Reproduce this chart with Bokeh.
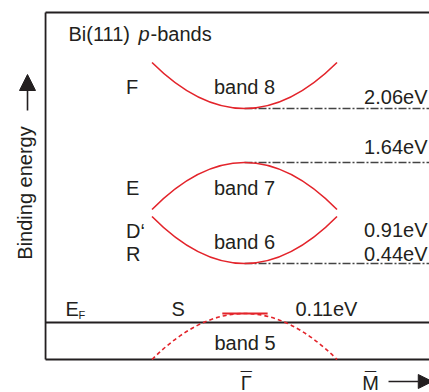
import math
from bokeh.plotting import figure
from bokeh.models import Range1d, ColumnDataSource, Arrow, NormalHead
from bokeh.core.properties import value
from bokeh.embed import file_html
from bokeh.resources import INLINE

# ---------------- data (schematic diagram units; k: Gamma=0, band ends at +-1; E_F level = 0) ----
band_names = ["band 8", "band 7", "band 6", "band 5"]
band_vertex = [2.14, 1.60, 0.59, 0.09]      # level at Gamma
band_edge = [2.60, 1.13, 1.06, -0.37]       # level at k = +-1
band_kmax = [1.0, 1.0, 1.0, 1.0]
band_dash = ["solid", "solid", "solid", "dashed"]
band_label_y = [2.36, 1.35, 0.81, -0.205]

ref_levels = [2.14, 1.60, 0.59]             # dash-dot lines from Gamma (2.06, 1.64, 0.44 eV)
energy_labels = ["2.06eV", "1.64eV", "0.91eV", "0.44eV"]
energy_label_y = [2.26, 1.76, 0.925, 0.69]

point_labels = ["F", "E", "D\u2018", "R"]
point_label_y = [2.355, 1.35, 0.92, 0.69]

s_state_k = [-0.24, 0.25]                   # solid top of band 5 (surface state S)
s_state_level = 0.09

k_points = ["\u0393", "M"]                   # shown with a bar (macron)
k_point_x = [0.02, 1.362]

FONT = "Liberation Sans"
TXT = "#231f20"
RED = "#e3242b"

# frame (diagram units)
X_LEFT, X_RIGHT = -2.151, 2.2
Y_TOP, Y_BOT = 3.10, -0.37

p = figure(width=429, height=392, output_backend="svg", toolbar_location=None,
           x_range=Range1d(-2.638, 2.0), y_range=Range1d(-0.70, 3.22),
           min_border=0, outline_line_color=None)
p.axis.visible = False
p.grid.visible = False
p.background_fill_color = "white"
p.border_fill_color = "white"

# frame lines
p.segment(x0=[X_LEFT, X_LEFT, X_LEFT, X_LEFT], y0=[Y_TOP, Y_BOT, 0.0, Y_BOT],
          x1=[X_RIGHT, X_RIGHT, X_RIGHT, X_LEFT], y1=[Y_TOP, Y_BOT, 0.0, Y_TOP],
          line_color="#231f20", line_width=1.8)

# dash-dot reference lines
p.segment(x0=[0.0] * len(ref_levels), y0=ref_levels,
          x1=[X_RIGHT] * len(ref_levels), y1=ref_levels,
          line_color="#444444", line_width=1.3, line_dash="8 2 2 2")

# bands as parabolic (quadratic Bezier) arcs
for v, e, km, d in zip(band_vertex, band_edge, band_kmax, band_dash):
    p.quadratic(x0=[-km], y0=[e], x1=[km], y1=[e], cx=[0.0], cy=[2 * v - e],
                line_color=RED, line_width=1.6,
                line_dash=("4 3" if d == "dashed" else "solid"))

p.segment(x0=[s_state_k[0]], y0=[s_state_level], x1=[s_state_k[1]], y1=[s_state_level],
          line_color=RED, line_width=2.0)

def txt(x, y, t, align="left", size="20px", style="normal", angle=0.0, x_offset=0):
    src = ColumnDataSource(dict(x=x, y=y, t=t))
    p.text(x="x", y="y", text="t", source=src, text_font=value(FONT),
           text_font_size=size, text_font_style=style, text_color=TXT,
           text_align=align, text_baseline="middle", angle=angle, x_offset=x_offset)

# title (with italic p)
title_parts = ["Bi(111) ", "p", "-bands"]
title_styles = ["normal", "italic", "normal"]
title_offsets = [0, 70, 82]
for part, st, xo in zip(title_parts, title_styles, title_offsets):
    txt([-1.903], [2.885], [part], style=st, x_offset=xo)

# band labels
txt([0.0, 0.0, 0.0, 0.005], band_label_y, band_names, align="center")

# energy labels (right aligned)
txt([1.978] * 4, energy_label_y, energy_labels, align="right")

# point labels
txt([-1.281] * 4, point_label_y, point_labels)
txt([-0.789, 0.551], [0.135, 0.135], ["S", "0.11eV"])
txt([-1.935], [0.135], ["E"])
txt([-1.795], [0.08], ["F"], size="11px")

# k-point labels with bars
txt(k_point_x, [-0.60, -0.60], k_points, align="center")
txt(k_point_x, [-0.565, -0.565], ["\u00af", "\u00af"], align="center")

# Binding energy label
txt([-2.378], [1.295], ["Binding energy"], align="center", angle=math.pi / 2)

# arrows
p.add_layout(Arrow(end=NormalHead(size=16, fill_color="#231f20", line_color="#231f20"),
                   x_start=-2.346, y_start=2.12, x_end=-2.346, y_end=2.48,
                   line_width=1.6, line_color="#231f20"))
p.add_layout(Arrow(end=NormalHead(size=14, fill_color="#231f20", line_color="#231f20"),
                   x_start=1.557, y_start=-0.59, x_end=2.03, y_end=-0.59,
                   line_width=1.6, line_color="#231f20"))

open("out.html", "w").write(file_html(p, INLINE))
